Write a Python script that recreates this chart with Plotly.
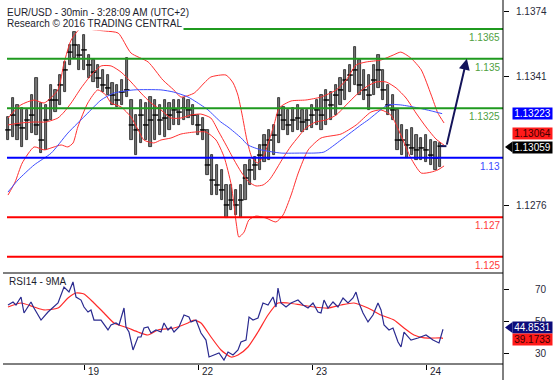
import plotly.graph_objects as go

# ---------------- data ----------------
# time axis: trading hours since 18-Feb 08:00 (weekend removed)
day_tick_t = [16, 40, 64, 88]
day_tick_labels = ["19", "22", "23", "24"]

bar_high = [1.13206,1.13302,1.13267,1.13252,1.13242,1.13317,1.13403,1.13277,1.13267,1.13368,
 1.13343,1.13418,1.13484,1.13570,1.13635,1.13570,1.13620,1.13519,1.13494,1.13469,
 1.13444,1.13418,1.13378,1.13368,1.13393,1.13504,1.13292,1.13216,1.13292,1.13277,
 1.13307,1.13292,1.13267,1.13292,1.13277,1.13292,1.13292,1.13302,1.13292,1.13267,
 1.13216,1.13201,1.13141,1.13014,1.12964,1.12939,1.12863,1.12863,1.12838,1.12863,
 1.12964,1.12989,1.13004,1.13065,1.13115,1.13141,1.13166,1.13302,1.13257,1.13242,
 1.13252,1.13267,1.13242,1.13242,1.13267,1.13292,1.13317,1.13343,1.13332,1.13368,
 1.13403,1.13444,1.13469,1.13560,1.13494,1.13444,1.13418,1.13469,1.13519,1.13444,
 1.13368,1.13317,1.13242,1.13166,1.13141,1.13151,1.13115,1.13100,1.13115,1.13090,
 1.13080,1.13075]
bar_low = [1.13090,1.13105,1.13090,1.13055,1.13090,1.13125,1.13115,1.13024,1.13040,1.13191,
 1.13231,1.13267,1.13332,1.13469,1.13504,1.13444,1.13444,1.13403,1.13383,1.13353,
 1.13332,1.13317,1.13267,1.13257,1.13267,1.13307,1.13090,1.13014,1.13075,1.13090,
 1.13055,1.13090,1.13115,1.13105,1.13141,1.13166,1.13166,1.13191,1.13201,1.13166,
 1.13115,1.13090,1.12913,1.12812,1.12812,1.12787,1.12696,1.12737,1.12711,1.12696,
 1.12787,1.12863,1.12888,1.12939,1.12979,1.12989,1.13014,1.13075,1.13141,1.13115,
 1.13130,1.13141,1.13130,1.13141,1.13151,1.13166,1.13141,1.13166,1.13191,1.13216,
 1.13267,1.13292,1.13332,1.13368,1.13317,1.13292,1.13242,1.13317,1.13353,1.13292,
 1.13216,1.13191,1.13040,1.13014,1.12999,1.13014,1.12989,1.12989,1.12979,1.12964,
 1.12939,1.12954]
bar_close = [1.13141,1.13216,1.13166,1.13151,1.13191,1.13216,1.13166,1.13090,1.13191,1.13292,
 1.13292,1.13368,1.13444,1.13534,1.13570,1.13519,1.13545,1.13469,1.13433,1.13403,
 1.13368,1.13353,1.13317,1.13292,1.13332,1.13343,1.13166,1.13141,1.13216,1.13166,
 1.13191,1.13216,1.13191,1.13201,1.13216,1.13242,1.13231,1.13252,1.13242,1.13216,
 1.13166,1.13141,1.12964,1.12888,1.12863,1.12838,1.12762,1.12787,1.12762,1.12787,
 1.12898,1.12939,1.12964,1.13014,1.13065,1.13090,1.13115,1.13216,1.13191,1.13166,
 1.13191,1.13201,1.13181,1.13191,1.13216,1.13242,1.13216,1.13292,1.13267,1.13317,
 1.13343,1.13393,1.13418,1.13444,1.13368,1.13343,1.13317,1.13393,1.13444,1.13343,
 1.13267,1.13242,1.13090,1.13090,1.13065,1.13050,1.13040,1.13050,1.13040,1.13014,
 1.12999,1.13059]
bar_t = list(range(len(bar_high)))

upper_t = [0.0,2.7,5.5,7.6,10.5,11.8,13.3,15.4,18.1,20.6,23.2,25.9,29.5,32.6,34.9,36.4,39.2,41.3,42.7,45.9,
 47.4,48.4,49.3,50.3,51.4,52.6,53.9,55.0,56.0,57.1,59.6,62.7,65.9,69.1,71.2,73.3,75.4,78.5,81.1,82.7,
 84.8,87.0,89.1,90.5,91.8]
upper_p = [1.13201,1.13267,1.13292,1.13277,1.13343,1.13479,1.13595,1.13656,1.13646,1.13640,1.13630,1.13529,
 1.13484,1.13393,1.13343,1.13307,1.13327,1.13378,1.13408,1.13418,1.13378,1.13317,1.13216,1.13090,1.12999,
 1.12974,1.13014,1.13090,1.13166,1.13252,1.13287,1.13292,1.13307,1.13343,1.13393,1.13469,1.13484,1.13494,
 1.13519,1.13534,1.13504,1.13444,1.13317,1.13226,1.13176]

middle_t = [0.0,2.7,5.5,8.0,10.5,11.8,13.3,15.4,17.5,19.6,21.7,23.8,25.9,28.0,30.1,32.2,34.3,36.4,38.5,40.6,
 42.7,44.4,45.9,47.6,49.1,50.7,52.2,53.7,55.0,56.0,57.9,59.6,61.1,62.7,64.8,66.9,69.1,71.2,73.3,75.4,
 77.5,79.6,81.7,83.8,85.9,88.0,90.1,91.8]
middle_p = [1.13166,1.13176,1.13181,1.13181,1.13201,1.13231,1.13277,1.13353,1.13418,1.13464,1.13464,1.13433,
 1.13383,1.13327,1.13277,1.13242,1.13201,1.13201,1.13216,1.13221,1.13201,1.13130,1.13065,1.12989,1.12928,
 1.12878,1.12858,1.12863,1.12888,1.12923,1.12999,1.13060,1.13105,1.13151,1.13181,1.13191,1.13216,1.13267,
 1.13317,1.13358,1.13383,1.13383,1.13353,1.13302,1.13226,1.13156,1.13095,1.13064]

lower_t = [0.0,1.5,3.0,5.5,7.6,9.7,11.2,12.6,13.7,14.7,16.8,18.9,20.6,21.7,23.8,25.9,27.4,28.6,30.7,32.2,34.3,
 36.4,39.2,41.7,43.8,45.5,47.0,48.1,48.6,49.7,50.7,52.2,54.3,56.4,57.9,59.6,61.1,63.2,65.9,70.1,73.3,
 76.4,78.5,80.6,82.7,84.8,87.0,89.1,90.5,91.8]
lower_p = [1.12812,1.12878,1.12974,1.13055,1.13040,1.13055,1.13065,1.13055,1.13075,1.13156,1.13277,1.13343,1.13317,
 1.13277,1.13257,1.13206,1.13141,1.13090,1.13075,1.13090,1.13100,1.13120,1.13130,1.13130,1.13090,1.13004,
 1.12863,1.12661,1.12600,1.12625,1.12686,1.12706,1.12696,1.12676,1.12711,1.12812,1.12923,1.13040,1.13100,
 1.13120,1.13166,1.13231,1.13242,1.13216,1.13115,1.12999,1.12923,1.12928,1.12939,1.12959]

ma_t = [0,2.1,5.5,9.1,12.6,16.8,19.6,22.3,26.5,32.2,34.9,37.9,40.6,42.1,44.8,46.3,49.1,50.5,53.3,57.5,
 61.7,64.4,66.5,70.1,74.3,75.8,80.0,82.7,86.3,89.1,91.4]
ma_p = [1.12827,1.12888,1.12964,1.13024,1.13125,1.13226,1.13292,1.13327,1.13343,1.13343,1.13332,1.13307,
 1.13267,1.13242,1.13181,1.13156,1.13100,1.13065,1.13040,1.13024,1.13024,1.13024,1.13029,1.13090,1.13166,
 1.13191,1.13267,1.13267,1.13252,1.13237,1.13223]

rsi_t = [0,1.05,1.68,2.74,3.37,4.84,5.47,6.95,8.42,10.53,
 11.79,12.84,13.68,14.32,15.37,16.0,16.84,17.47,18.1,19.58,
 21.05,21.68,22.74,23.37,24.42,24.84,25.47,26.32,27.37,28.0,
 28.63,29.47,30.1,31.16,32.21,32.84,33.68,34.32,34.95,36.0,
 37.05,38.1,38.53,39.58,40.63,41.68,42.32,43.37,44.42,45.47,
 46.32,47.37,48.42,49.05,50.11,50.74,51.58,52.63,53.68,54.74,
 55.79,56.42,56.84,57.47,58.53,59.58,61.05,62.11,63.16,64.21,
 65.26,65.89,66.53,67.37,68.42,69.47,70.53,71.58,72.63,73.26,
 73.89,74.74,75.79,76.84,77.89,78.53,79.16,80.21,81.05,82.11,
 82.74,83.37,84.84,86.32,88.0,89.47,90.74,91.58]
rsi_v = [60.0,61.9,60.0,65.0,55.0,61.9,58.1,50.6,55.6,61.25,
 71.25,68.1,74.4,65.0,63.1,58.75,55.6,56.9,50.6,50.6,
 44.4,47.5,48.75,47.5,58.1,46.25,43.1,31.9,40.0,40.0,
 45.6,46.25,42.5,44.4,43.1,48.75,44.4,46.25,43.1,46.25,
 53.75,52.5,49.4,50.6,42.5,38.1,27.5,28.75,30.0,25.6,
 30.6,28.75,31.9,36.9,38.1,52.5,50.6,51.9,61.25,60.0,
 65.0,58.75,70.6,61.25,58.75,61.25,63.1,60.0,58.1,61.25,
 55.6,55.0,63.1,58.1,61.9,58.75,64.4,61.25,64.4,68.1,
 61.25,55.0,49.4,53.75,61.25,56.9,47.5,44.4,45.6,36.9,
 33.75,43.1,38.1,39.4,41.25,38.1,36.25,44.85]

rsima_t = [0,2.74,5.47,7.58,10.53,12.63,14.32,16.0,18.1,20.21,22.32,25.26,27.37,29.47,31.58,34.95,37.89,
 39.16,40.63,42.74,44.84,46.95,48.42,50.53,52.63,54.74,56.84,58.95,61.68,64.42,67.37,70.11,72.84,75.79,
 78.53,81.26,83.37,85.47,87.58,91.16,91.58]
rsima_v = [58.75,61.25,58.75,56.9,58.1,64.4,67.5,66.9,61.25,55.0,48.75,45.6,43.1,41.25,44.4,45.6,48.75,
 50.6,48.75,40.0,31.9,27.5,28.75,33.75,43.1,53.75,61.25,61.25,60.0,58.75,58.1,60.0,61.25,58.1,53.75,
 50.6,45.6,41.25,39.4,39.4,39.17]

levels = [1.1365, 1.135, 1.1325, 1.13, 1.127, 1.125]
level_labels = ["1.1365", "1.135", "1.1325", "1.13", "1.127", "1.125"]
level_colors = ["#1f9a1f", "#1f9a1f", "#1f9a1f", "#0000ff", "#ff0000", "#ff0000"]
level_text_colors = ["#4f9f3f", "#4f9f3f", "#4f9f3f", "#3a4aff", "#ff3b3b", "#ff3b3b"]

fc_t = [91, 92.3, 96.6]
fc_p = [1.13059, 1.13059, 1.1350]

price_ticks = [1.1374, 1.1341, 1.1276]
price_tick_labels = ["1.1374", "1.1341", "1.1276"]
rsi_ticks = [70, 50, 30]
rsi_tick_labels = ["70", "50", "30"]

last_ma = "1.13223"
last_mid = "1.13064"
last_close = "1.13059"
last_rsi = "44.8531"
last_rsima = "39.1733"

# ---------------- figure ----------------
W, H = 558, 380
ML, MR, MT, MB = 3, 55, 0, 16
PW, PH = W - ML - MR, H - MT - MB
def px_x(p):
    return (p - ML) / PW
def px_y(p):
    return (H - MB - p) / PH

FONT = "Liberation Sans, Arial, sans-serif"
fig = go.Figure()

fig.add_trace(go.Bar(x=bar_t, y=[h - l for h, l in zip(bar_high, bar_low)], base=bar_low,
                     width=0.48, marker=dict(color="#767676", line=dict(color="#1e1e1e", width=0.8)),
                     xaxis="x", yaxis="y", hoverinfo="skip"))
fig.add_trace(go.Scatter(x=bar_t, y=bar_close, mode="markers",
                         marker=dict(symbol="line-ew", size=4, line=dict(width=1.4, color="#000")),
                         xaxis="x", yaxis="y", hoverinfo="skip"))
for tt, pp in [(upper_t, upper_p), (middle_t, middle_p), (lower_t, lower_p)]:
    fig.add_trace(go.Scatter(x=tt, y=pp, mode="lines", line=dict(color="#ff3030", width=1, shape="spline", smoothing=0.6),
                             xaxis="x", yaxis="y", hoverinfo="skip"))
fig.add_trace(go.Scatter(x=ma_t, y=ma_p, mode="lines", line=dict(color="#3d4dff", width=1, shape="spline", smoothing=0.6),
                         xaxis="x", yaxis="y", hoverinfo="skip"))
fig.add_trace(go.Scatter(x=fc_t[:2], y=fc_p[:2], mode="lines", line=dict(color="#14145a", width=2),
                         xaxis="x", yaxis="y", hoverinfo="skip"))

fig.add_trace(go.Scatter(x=rsima_t, y=rsima_v, mode="lines", line=dict(color="#ff2a2a", width=1.2, shape="spline", smoothing=0.6),
                         xaxis="x", yaxis="y2", hoverinfo="skip"))
fig.add_trace(go.Scatter(x=rsi_t, y=rsi_v, mode="lines", line=dict(color="#2a2a8f", width=1.2),
                         xaxis="x", yaxis="y2", hoverinfo="skip"))

x_lo = (ML - 8) / 4.75
x_hi = (ML + PW - 8) / 4.75

shapes = []
for lv, c in zip(levels, level_colors):
    shapes.append(dict(type="line", xref="paper", yref="y", x0=px_x(7), x1=1, y0=lv, y1=lv,
                       line=dict(color=c, width=2)))
# panel borders
shapes.append(dict(type="line", xref="paper", yref="paper", x0=0, x1=1, y0=0.25, y1=0.25,
                   line=dict(color="#000", width=1)))
shapes.append(dict(type="line", xref="paper", yref="paper", x0=0, x1=1, y0=0, y1=0,
                   line=dict(color="#000", width=1)))
shapes.append(dict(type="line", xref="paper", yref="paper", x0=1, x1=1, y0=px_y(H), y1=1,
                   line=dict(color="#000", width=1)))
# pointers of the black / navy value boxes
shapes.append(dict(type="path", xref="paper", yref="paper", fillcolor="#000", line=dict(width=0),
                   path=f"M {px_x(505)} {px_y(147)} L {px_x(512.5)} {px_y(141.5)} L {px_x(512.5)} {px_y(152.5)} Z"))
shapes.append(dict(type="path", xref="paper", yref="paper", fillcolor="#0c0c7a", line=dict(width=0),
                   path=f"M {px_x(505)} {px_y(327.5)} L {px_x(512.5)} {px_y(322)} L {px_x(512.5)} {px_y(333)} Z"))

ann = []
ann.append(dict(xref="paper", yref="paper", x=px_x(5), y=px_y(12.5), xanchor="left", yanchor="middle",
                text="EUR/USD - 30min - 3:28:09 AM (UTC+2)", showarrow=False, bgcolor="#fff", borderpad=1,
                font=dict(family=FONT, size=10, color="#1c1c2c")))
ann.append(dict(xref="paper", yref="paper", x=px_x(5), y=px_y(24), xanchor="left", yanchor="middle",
                text="Research © 2016 TRADING CENTRAL", showarrow=False, bgcolor="#fff", borderpad=1,
                font=dict(family=FONT, size=10, color="#1c1c2c")))
for lv, lab, c in zip(levels, level_labels, level_text_colors):
    ann.append(dict(xref="paper", yref="y", x=1, y=lv, xanchor="right", yanchor="top", xshift=-1, yshift=-1,
                    text=lab, showarrow=False, font=dict(family=FONT, size=10, color=c)))
for v, lab in zip(price_ticks, price_tick_labels):
    ann.append(dict(xref="paper", yref="y", x=1, y=v, xanchor="right", yanchor="middle", xshift=46,
                    text=lab, showarrow=False, font=dict(family=FONT, size=10, color="#2a2a3a")))
for v, lab in zip(rsi_ticks, rsi_tick_labels):
    ann.append(dict(xref="paper", yref="y2", x=1, y=v, xanchor="right", yanchor="middle", xshift=46,
                    text=lab, showarrow=False, font=dict(family=FONT, size=10, color="#2a2a3a")))
for t, lab in zip(day_tick_t, day_tick_labels):
    ann.append(dict(xref="x", yref="paper", x=t, y=px_y(371), xanchor="left", yanchor="middle", xshift=2,
                    text=lab, showarrow=False, font=dict(family=FONT, size=10, color="#1c1c2c")))
ann.append(dict(xref="paper", yref="paper", x=px_x(7), y=px_y(281), xanchor="left", yanchor="middle",
                text="RSI14 - 9MA", showarrow=False, font=dict(family=FONT, size=10, color="#1c1c2c")))

def box(text, py, bg, fg):
    return dict(xref="paper", yref="paper", x=px_x(512), y=px_y(py), xanchor="left", yanchor="middle",
                text=text, showarrow=False, bgcolor=bg, width=38, height=10, borderpad=0.5,
                font=dict(family=FONT, size=10, color=fg))
ann.append(box(last_ma, 113.5, "#0000ff", "#ffffff"))
ann.append(box(last_mid, 133, "#ff1a1a", "#3a0000"))
ann.append(box(last_close, 147, "#000000", "#ffffff"))
ann.append(box(last_rsi, 327.5, "#0c0c7a", "#ffffff"))
ann.append(box(last_rsima, 339.5, "#ff1a1a", "#3a0000"))

# forecast arrow
ann.append(dict(xref="x", yref="y", axref="x", ayref="y", x=fc_t[2], y=fc_p[2], ax=fc_t[1], ay=fc_p[1],
                showarrow=True, arrowhead=2, arrowsize=1.1, arrowwidth=2, arrowcolor="#14145a", text=""))

fig.update_layout(
    width=W, height=H, margin=dict(l=ML, r=MR, t=MT, b=MB),
    paper_bgcolor="#fff", plot_bgcolor="#fff", showlegend=False, bargap=0,
    xaxis=dict(range=[x_lo, x_hi], anchor="y2", showgrid=False, zeroline=False, showline=False,
               tickvals=day_tick_t, ticks="outside", ticklen=5, tickcolor="#000", showticklabels=False,
               fixedrange=True),
    yaxis=dict(domain=[0.25, 1], range=[1.124184, 1.13797], side="right", anchor="x", showgrid=False,
               zeroline=False, showline=False, tickvals=price_ticks, ticks="outside", ticklen=5,
               tickcolor="#000", showticklabels=False),
    yaxis2=dict(domain=[0, 0.25], range=[23.125, 80], side="right", anchor="x", showgrid=False,
                zeroline=False, showline=False, tickvals=rsi_ticks, ticks="outside", ticklen=5,
                tickcolor="#000", showticklabels=False),
    shapes=shapes, annotations=ann,
)

fig.write_html("out.html", config={"displayModeBar": False},
               post_script="document.body.style.margin='0px';document.body.style.padding='0px';")
